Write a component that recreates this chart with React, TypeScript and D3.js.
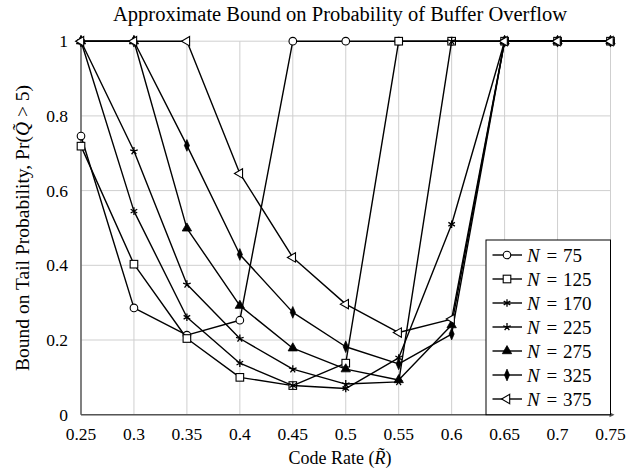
import React from "react";
import * as d3 from "d3";

const rates = [0.25, 0.3, 0.35, 0.4, 0.45, 0.5, 0.55, 0.6, 0.65, 0.7, 0.75];
const n75 = [0.746, 0.286, 0.213, 0.253, 1, 1, 1, 1, 1, 1, 1];
const n125 = [0.719, 0.403, 0.204, 0.1, 0.078, 0.138, 1, 1, 1, 1, 1];
const n170 = [1, 0.545, 0.261, 0.138, 0.078, 0.07, 0.152, 0.51, 1, 1, 1];
const n225 = [1, 0.706, 0.349, 0.204, 0.122, 0.082, 0.088, 1, 1, 1, 1];
const n275 = [1, 1, 0.499, 0.292, 0.178, 0.122, 0.093, 0.24, 1, 1, 1];
const n325 = [1, 1, 0.721, 0.429, 0.274, 0.182, 0.136, 0.216, 1, 1, 1];
const n375 = [1, 1, 1, 0.646, 0.421, 0.296, 0.22, 0.256, 1, 1, 1];

const seriesNames = ["75", "125", "170", "225", "275", "325", "375"];
const seriesValues = [n75, n125, n170, n225, n275, n325, n375];
const markerKinds = ["circle", "square", "asterisk", "star", "triangle", "diamond", "left"];

const xTicks = [0.25, 0.3, 0.35, 0.4, 0.45, 0.5, 0.55, 0.6, 0.65, 0.7, 0.75];
const xTickLabels = ["0.25", "0.3", "0.35", "0.4", "0.45", "0.5", "0.55", "0.6", "0.65", "0.7", "0.75"];
const yTicks = [0, 0.2, 0.4, 0.6, 0.8, 1];
const yTickLabels = ["0", "0.2", "0.4", "0.6", "0.8", "1"];

const W = 630;
const H = 471;
const left = 81;
const right = 610.5;
const top = 41.2;
const bottom = 414.7;
const FONT = "Liberation Serif, Times New Roman, serif";

function Marker({ kind, x, y }: { kind: string; x: number; y: number }) {
  const t = `translate(${x},${y})`;
  const sw = 1.1;
  if (kind === "circle")
    return <circle cx={x} cy={y} r={3.8} fill="white" stroke="black" strokeWidth={sw} />;
  if (kind === "square")
    return <rect x={x - 3.8} y={y - 3.8} width={7.6} height={7.6} fill="white" stroke="black" strokeWidth={sw} />;
  if (kind === "asterisk") {
    const r = 3.8;
    const path = d3.range(3).map((i) => {
      const a = (Math.PI / 3) * i + Math.PI / 2;
      return `M${-r * Math.cos(a)},${-r * Math.sin(a)}L${r * Math.cos(a)},${r * Math.sin(a)}`;
    }).join("");
    return <path transform={t} d={path} stroke="black" strokeWidth={1.3} />;
  }
  if (kind === "star") {
    const r = 4;
    const path = d3.range(5).map((i) => {
      const a = (2 * Math.PI / 5) * i - Math.PI / 2;
      return `M0,0L${r * Math.cos(a)},${r * Math.sin(a)}`;
    }).join("");
    return <path transform={t} d={path} stroke="black" strokeWidth={1.3} />;
  }
  if (kind === "triangle")
    return <path transform={t} d={d3.symbol(d3.symbolTriangle, 38)() as string} fill="black" stroke="black" strokeWidth={0.8} />;
  if (kind === "diamond")
    return <path transform={`${t} scale(0.75,1)`} d={d3.symbol(d3.symbolDiamond, 40)() as string} fill="black" stroke="black" strokeWidth={0.8} />;
  return <path transform={`${t} rotate(-90)`} d={d3.symbol(d3.symbolTriangle, 38)() as string} fill="white" stroke="black" strokeWidth={sw} />;
}

export default function App() {
  const x = d3.scaleLinear().domain([0.25, 0.75]).range([left, right]);
  const y = d3.scaleLinear().domain([0, 1]).range([bottom, top]);
  const line = d3.line<number>().x((_, i) => x(rates[i])).y((d) => y(d));

  const legX = 486;
  const legY = 240;
  const legW = right - legX;
  const legH = bottom - legY;
  const rowH = 24;

  return (
    <svg width={W} height={H} style={{ position: "absolute", left: 0, top: 0, background: "white" }} fontFamily={FONT}>
      <rect width={W} height={H} fill="white" />
      {/* grid */}
      {xTicks.map((t) => (
        <line key={"gx" + t} x1={x(t)} x2={x(t)} y1={y(0)} y2={y(1)} stroke="#cfcfcf" strokeWidth={1} />
      ))}
      {yTicks.map((t) => (
        <line key={"gy" + t} x1={left} x2={right} y1={y(t)} y2={y(t)} stroke="#cfcfcf" strokeWidth={1} />
      ))}
      {/* axes */}
      <line x1={left} x2={right + 2} y1={bottom} y2={bottom} stroke="#555" strokeWidth={1.4} />
      <path d={`M${right + 4},${bottom}L${right - 1},${bottom - 2.5}L${right - 1},${bottom + 2.5}Z`} fill="#555" />
      <line x1={left} x2={left} y1={bottom} y2={top} stroke="#555" strokeWidth={1.4} />
      {/* tick labels */}
      {xTicks.map((t, i) => (
        <text key={"xl" + t} x={x(t)} y={440} textAnchor="middle" fontSize={17.5}>{xTickLabels[i]}</text>
      ))}
      {yTicks.map((t, i) => (
        <text key={"yl" + t} x={68} y={y(t) + 6} textAnchor="end" fontSize={17.5}>{yTickLabels[i]}</text>
      ))}
      {/* series */}
      {seriesValues.map((vals, si) => (
        <g key={"s" + si}>
          <path d={line(vals) as string} fill="none" stroke="black" strokeWidth={1.4} strokeLinejoin="round" />
          {vals.map((v, i) => (
            <Marker key={i} kind={markerKinds[si]} x={x(rates[i])} y={y(v)} />
          ))}
        </g>
      ))}
      {/* legend */}
      <rect x={legX} y={legY} width={legW} height={legH} fill="white" stroke="black" strokeWidth={1} />
      {seriesNames.map((n, i) => {
        const cy = legY + 15 + i * rowH;
        return (
          <g key={"lg" + n}>
            <line x1={492.5} x2={522} y1={cy} y2={cy} stroke="black" strokeWidth={1.4} />
            <Marker kind={markerKinds[i]} x={507} y={cy} />
            <text x={527} y={cy + 6.5} fontSize={19}>
              <tspan fontStyle="italic">N</tspan>
              <tspan dx={2}> = </tspan>
              <tspan dx={1}>{n}</tspan>
            </text>
          </g>
        );
      })}
      {/* title and labels */}
      <text x={340} y={21} textAnchor="middle" fontSize={20.5}>Approximate Bound on Probability of Buffer Overflow</text>
      <text x={340} y={464} textAnchor="middle" fontSize={18}>
        Code Rate (<tspan fontStyle="italic">R̃</tspan>)
      </text>
      <text transform={`translate(29,${(top + bottom) / 2}) rotate(-90)`} textAnchor="middle" fontSize={19.5}>
        Bound on Tail Probability, Pr(<tspan fontStyle="italic">Q̃</tspan> &gt; 5)
      </text>
    </svg>
  );
}
